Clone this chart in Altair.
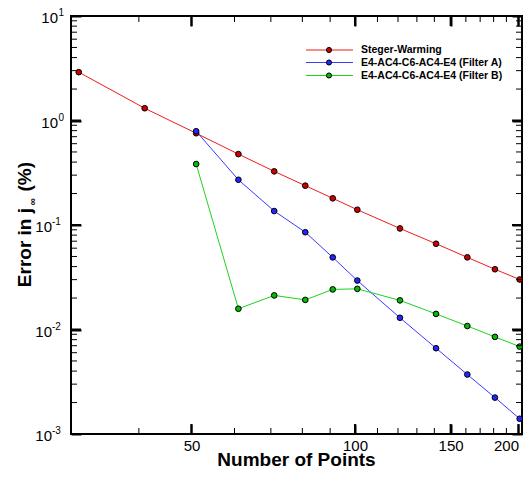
import altair as alt
import pandas as pd

FONT = "Liberation Sans"

# ---- data ----
series = ["Steger-Warming", "E4-AC4-C6-AC4-E4 (Filter A)", "E4-AC4-C6-AC4-E4 (Filter B)"]
n_sw = [31, 41, 51, 61, 71, 81, 91, 101, 121, 141, 161, 181, 201]
err_sw = [2.9, 1.31, 0.755, 0.477, 0.326, 0.238, 0.18, 0.14, 0.0927, 0.0662, 0.049, 0.0377, 0.0301]
n_fa = [51, 61, 71, 81, 91, 101, 121, 141, 161, 181, 201]
err_fa = [0.789, 0.271, 0.136, 0.0853, 0.049, 0.0294, 0.01295, 0.00662, 0.00371, 0.00223, 0.0014]
n_fb = [51, 61, 71, 81, 91, 101, 121, 141, 161, 181, 201]
err_fb = [0.383, 0.0158, 0.0212, 0.0192, 0.0242, 0.0245, 0.019, 0.0141, 0.0108, 0.0085, 0.00686]

line_colors = ["#ee1c1c", "#3b3bff", "#1ed21e"]
fill_colors = ["#cc0000", "#2424ff", "#00bb00"]

x_major = [50, 100, 150, 200]
x_minor = [40, 60, 70, 80, 90, 110, 120, 130, 140, 160, 170, 180, 190]
y_major = [0.001, 0.01, 0.1, 1, 10]
y_exp = ["-3", "-2", "-1", "0", "1"]
y_minor = [0.002, 0.003, 0.004, 0.005, 0.006, 0.007, 0.008, 0.009,
           0.02, 0.03, 0.04, 0.05, 0.06, 0.07, 0.08, 0.09,
           0.2, 0.3, 0.4, 0.5, 0.6, 0.7, 0.8, 0.9,
           2, 3, 4, 5, 6, 7, 8, 9]
x_title = ["Number of Points"]
y_title = ["Error in j", "\u221e", "(%)"]

df = pd.concat([
    pd.DataFrame({"N": n_sw, "err": err_sw, "series": series[0]}),
    pd.DataFrame({"N": n_fa, "err": err_fa, "series": series[1]}),
    pd.DataFrame({"N": n_fb, "err": err_fb, "series": series[2]}),
], ignore_index=True)

# whole svg must stay within 516 px (page body width)
W, H = 451, 418

xs = alt.Scale(type="log", domain=[30, 203], nice=False)
ys = alt.Scale(type="log", domain=[0.001, 10], nice=False)


def tick_axis(orient, values, size, width, **kw):
    opts = dict(orient=orient, values=values, domain=False, grid=False, title=None,
                ticks=True, tickColor="black", tickWidth=width, tickOpacity=1,
                tickSize={"expr": str(-size)}, labels=False)
    opts.update(kw)
    return alt.Axis(**opts)


ax_bottom = tick_axis("bottom", x_major, 10, 2, labels=True, format="d", labelFontSize=15,
                      labelFont=FONT, labelColor="black", labelPadding=14,
                      labelOverlap=False, labelFlush=8)
ax_top = tick_axis("top", x_major, 10, 2)
ay_left = tick_axis("left", y_major, 10, 2)
ay_right = tick_axis("right", y_major, 10, 2)

col = alt.Color("series:N", scale=alt.Scale(domain=series, range=line_colors), legend=None)
fil = alt.Fill("series:N", scale=alt.Scale(domain=series, range=fill_colors), legend=None)


def Xn(f):
    return alt.X(f, scale=xs, axis=None)


def Yn(f):
    return alt.Y(f, scale=ys, axis=None)


lines = alt.Chart(df).mark_line(strokeWidth=1).encode(
    x=alt.X("N:Q", scale=xs, axis=ax_bottom),
    y=alt.Y("err:Q", scale=ys, axis=ay_left),
    color=col)
points = alt.Chart(df).mark_circle(size=32, opacity=1, stroke="black", strokeWidth=1).encode(
    x=alt.X("N:Q", scale=xs, axis=ax_top),
    y=alt.Y("err:Q", scale=ys, axis=ay_right),
    fill=fil)

# inward ticks drawn as thin filled symbols (length L, width w) on all four sides
tick_df = pd.concat([
    pd.DataFrame({"v": x_major, "axis": "x", "kind": "major"}),
    pd.DataFrame({"v": x_minor, "axis": "x", "kind": "minor"}),
    pd.DataFrame({"v": y_major, "axis": "y", "kind": "major"}),
    pd.DataFrame({"v": y_minor, "axis": "y", "kind": "minor"}),
], ignore_index=True)

tick_layers = []
for kind, L, hw in [("major", 10, 0.2), ("minor", 6, 0.1667)]:
    vpath = f"M-{hw},-1L{hw},-1L{hw},1L-{hw},1Z"
    hpath = f"M-1,-{hw}L1,-{hw}L1,{hw}L-1,{hw}Z"
    fx = f"datum.axis == 'x' && datum.kind == '{kind}'"
    fy = f"datum.axis == 'y' && datum.kind == '{kind}'"
    for yc in (H - L / 2, L / 2):
        tick_layers.append(alt.Chart(tick_df).transform_filter(fx).mark_point(
            shape=vpath, size=L * L, filled=True, color="black", strokeWidth=0, opacity=1).encode(
            x=Xn("v:Q"), y=alt.value(yc)))
    for xc in (L / 2, W - L / 2):
        tick_layers.append(alt.Chart(tick_df).transform_filter(fy).mark_point(
            shape=hpath, size=L * L, filled=True, color="black", strokeWidth=0, opacity=1).encode(
            y=Yn("v:Q"), x=alt.value(xc)))

lab = pd.DataFrame({"v": y_major, "e": y_exp, "b": ["10"] * len(y_major)})
ylab_layers = [
    alt.Chart(lab).transform_filter("datum.v >= 1").mark_text(
        align="right", baseline="middle", fontSize=15, font=FONT, dy=2, color="black").encode(
        y=Yn("v:Q"), x=alt.value(-13), text="b:N"),
    alt.Chart(lab).transform_filter("datum.v < 1").mark_text(
        align="right", baseline="middle", fontSize=15, font=FONT, dy=2, color="black").encode(
        y=Yn("v:Q"), x=alt.value(-19), text="b:N"),
    alt.Chart(lab).transform_filter("datum.v >= 1").mark_text(
        align="left", baseline="middle", fontSize=10, font=FONT, dy=-3, color="black").encode(
        y=Yn("v:Q"), x=alt.value(-12.5), text="e:N"),
    alt.Chart(lab).transform_filter("datum.v < 1").mark_text(
        align="left", baseline="middle", fontSize=10, font=FONT, dy=-3, color="black").encode(
        y=Yn("v:Q"), x=alt.value(-19), text="e:N"),
]

tdf = pd.DataFrame({"t": x_title})
xt = alt.Chart(tdf).mark_text(align="center", baseline="alphabetic", fontSize=19, fontWeight="bold",
                              font=FONT, color="black").encode(
    x=alt.value(W / 2), y=alt.value(H + 32), text="t:N")

ytdf = pd.DataFrame({"t": y_title, "k": [0, 1, 2]})
yt = [
    alt.Chart(ytdf).transform_filter("datum.k == 0").mark_text(
        align="right", baseline="alphabetic", angle=270, fontSize=19, fontWeight="bold",
        font=FONT, color="black").encode(x=alt.value(-40), y=alt.value(192), text="t:N"),
    alt.Chart(ytdf).transform_filter("datum.k == 1").mark_text(
        align="right", baseline="alphabetic", angle=270, fontSize=10, fontWeight="bold",
        font=FONT, color="black").encode(x=alt.value(-35), y=alt.value(182), text="t:N"),
    alt.Chart(ytdf).transform_filter("datum.k == 2").mark_text(
        align="right", baseline="alphabetic", angle=270, fontSize=19, fontWeight="bold",
        font=FONT, color="black").encode(x=alt.value(-40), y=alt.value(146), text="t:N"),
]

# legend drawn from the series list, one row per series
leg_df = pd.DataFrame({"series": series})
leg_rows = [34, 46.5, 59.5]
leg_layers = []
for s, yrow in zip(series, leg_rows):
    f = alt.datum.series == s
    leg_layers.append(alt.Chart(leg_df).transform_filter(f).mark_rule(strokeWidth=1).encode(
        y=alt.value(yrow), x=alt.value(235), x2=alt.value(282), color=col))
    leg_layers.append(alt.Chart(leg_df).transform_filter(f).mark_circle(
        size=26, opacity=1, stroke="black", strokeWidth=1).encode(
        y=alt.value(yrow), x=alt.value(258), fill=fil))
    leg_layers.append(alt.Chart(leg_df).transform_filter(f).mark_text(
        align="left", baseline="middle", fontSize=10.5, fontWeight="bold",
        font=FONT, color="black").encode(y=alt.value(yrow), x=alt.value(290), text="series:N"))

chart = alt.layer(lines, points, *tick_layers, *ylab_layers, xt, *yt, *leg_layers).resolve_axis(
    x="independent", y="independent").properties(
    width=W, height=H,
    padding={"left": 63, "top": 8, "right": 2, "bottom": 37},
    autosize=alt.AutoSizeParams(type="none"),
    background="white",
).configure_view(stroke="black", strokeWidth=2)

chart.save("out.html", embed_options={"renderer": "svg", "actions": False})
